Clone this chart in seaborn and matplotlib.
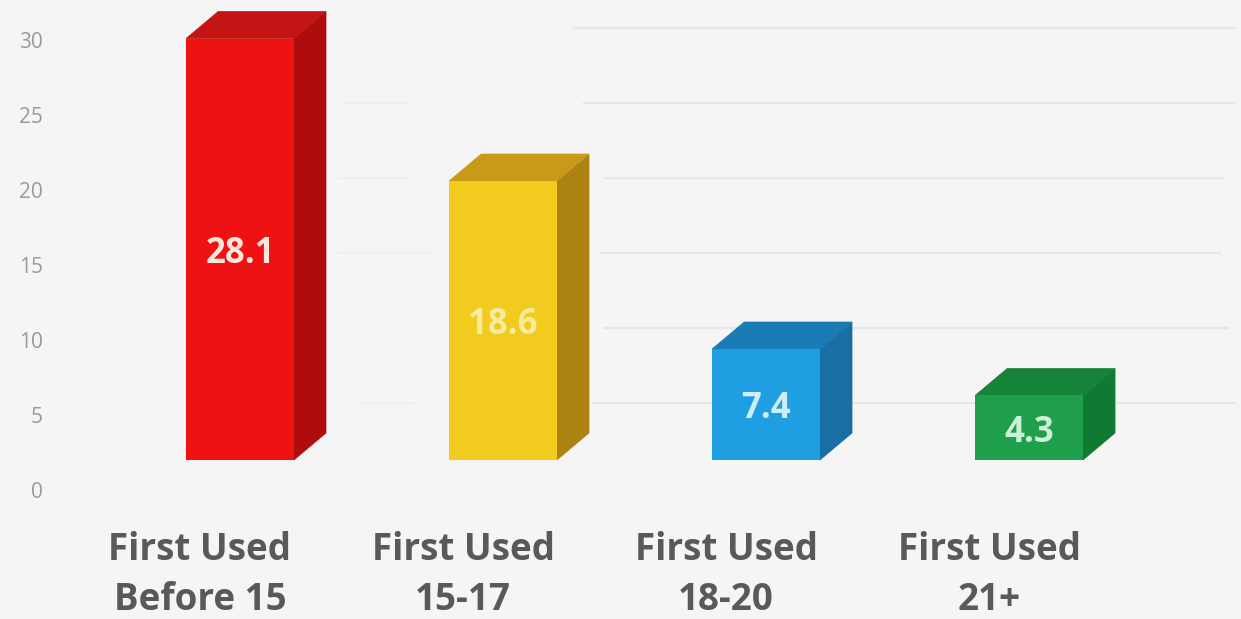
import matplotlib
matplotlib.use("Agg")
import matplotlib.pyplot as plt
from matplotlib.patches import Polygon
from matplotlib.transforms import ScaledTranslation
import seaborn as sns

# Drinking-onset groups and their values
categories = ["First Used\nBefore 15", "First Used\n15-17", "First Used\n18-20", "First Used\n21+"]
values = [28.1, 18.6, 7.4, 4.3]
y_ticks = [0, 5, 10, 15, 20, 25, 30]

# Face colours of each box
front_colors = ["#ee1212", "#f2cb1f", "#1f9fe2", "#1f9e4b"]
side_colors = ["#ae0d0d", "#ac8212", "#186fa3", "#117a32"]
top_colors = ["#c41414", "#c99a18", "#1a7cb5", "#158338"]
label_colors = ["#fbe6de", "#f9eca0", "#cdeef9", "#cdf0d6"]

BG = "#f5f5f6"
BASELINE = 1.2
DEPTH_X = 0.122
DEPTH_Y = 1.8

sns.set_theme(style="white", rc={"figure.facecolor": BG, "axes.facecolor": BG})
plt.rcParams["font.family"] = ["Open Sans", "DejaVu Sans"]

fig = plt.figure(figsize=(12.41, 6.19), dpi=100)
ax = fig.add_axes([0, 0, 1, 1])

sns.barplot(x=categories, y=values, hue=categories, palette=front_colors, legend=False,
            width=0.41, bottom=BASELINE, saturation=1, linewidth=0, ax=ax, zorder=3)

# Extrude every bar into a box with a side and a top face
for bar, side, top in zip(ax.patches, side_colors, top_colors):
    x0, x1 = bar.get_x(), bar.get_x() + bar.get_width()
    y0, y1 = bar.get_y(), bar.get_y() + bar.get_height()
    ax.add_patch(Polygon([(x1, y0), (x1 + DEPTH_X, y0 + DEPTH_Y), (x1 + DEPTH_X, y1 + DEPTH_Y), (x1, y1)],
                         closed=True, facecolor=side, edgecolor=side, linewidth=0.5, zorder=2.9))
    ax.add_patch(Polygon([(x0, y1), (x0 + DEPTH_X, y1 + DEPTH_Y), (x1 + DEPTH_X, y1 + DEPTH_Y), (x1, y1)],
                         closed=True, facecolor=top, edgecolor=top, linewidth=0.5, zorder=2.9))

# Value printed in the middle of each front face
for container, value, color in zip(ax.containers, values, label_colors):
    ax.bar_label(container, labels=[f"{value}"], label_type="center", padding=-3.5,
                 color=color, fontsize=25, fontweight="bold", zorder=5)

ax.set_xlim(-0.9125, 3.806)
ax.set_ylim(-9.4, 31.867)

# Faint, broken horizontal rules
rules = [(30, 0.462, 0.996), (25, 0.47, 0.995), (20, 0.487, 0.986), (15, 0.484, 0.985),
         (10, 0.487, 0.99), (5, 0.478, 0.995)]
for level, start, stop in rules:
    ax.hlines(level, start, stop, transform=ax.get_yaxis_transform(),
              color="#e7e7e8", linewidth=1.6, zorder=1)
for level, start, stop in [(25, 0.275, 0.331), (20, 0.272, 0.331), (15, 0.272, 0.347), (5, 0.288, 0.334)]:
    ax.hlines(level, start, stop, transform=ax.get_yaxis_transform(),
              color="#efefef", linewidth=1.4, zorder=1)

ax.set_yticks(y_ticks)
ax.set_yticklabels([str(t) for t in y_ticks], color="#9a9a9a", fontsize=15, ha="right")
ax.set_xticks(range(len(categories)))
ax.set_xticklabels(categories, color="#595959", fontsize=26.5, fontweight="bold",
                   linespacing=1.42, va="top")
ax.tick_params(axis="both", length=0)

# Tick text sits inside the full-bleed axes, shifted off its tick position
y_shift = ScaledTranslation(43 / 100, -14 / 100, fig.dpi_scale_trans)
for label in ax.get_yticklabels():
    label.set_transform(ax.get_yaxis_transform(which="tick1") + y_shift)
    label.set_verticalalignment("center")
    label.set_position((0, label.get_position()[1]))
x_shift = ScaledTranslation(-40 / 100, 93 / 100, fig.dpi_scale_trans)
for label in ax.get_xticklabels():
    label.set_transform(label.get_transform() + x_shift)

ax.set_xlabel("")
ax.set_ylabel("")
sns.despine(ax=ax, left=True, bottom=True)

fig.savefig("out.png", dpi=100, facecolor=BG)
